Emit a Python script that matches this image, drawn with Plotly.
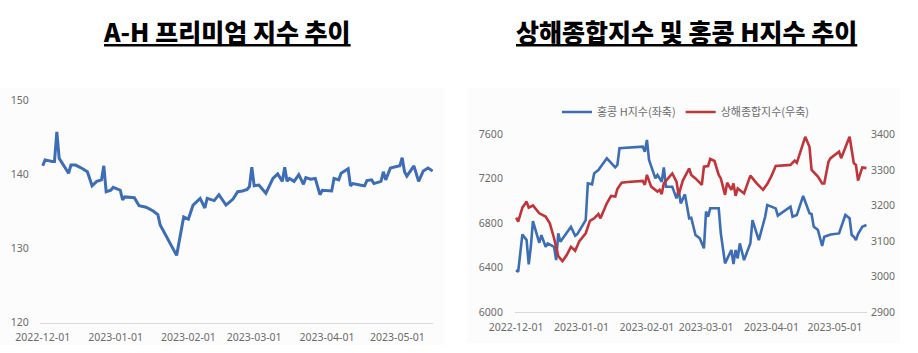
import plotly.graph_objects as go

# ---------------- data ----------------
ah_dates = [
    "2022-12-01", "2022-12-02", "2022-12-05", "2022-12-06", "2022-12-07", "2022-12-08", "2022-12-10",
    "2022-12-12", "2022-12-13", "2022-12-15", "2022-12-18", "2022-12-20", "2022-12-22", "2022-12-24",
    "2022-12-26", "2022-12-27", "2022-12-28", "2022-12-30", "2022-12-31", "2023-01-03", "2023-01-04",
    "2023-01-05", "2023-01-09", "2023-01-11", "2023-01-14", "2023-01-17", "2023-01-19", "2023-01-20",
    "2023-01-27", "2023-01-30", "2023-02-01", "2023-02-03", "2023-02-06", "2023-02-08", "2023-02-09",
    "2023-02-12", "2023-02-14", "2023-02-17", "2023-02-20", "2023-02-22", "2023-02-24", "2023-02-26",
    "2023-02-27", "2023-02-28", "2023-03-01", "2023-03-03", "2023-03-06", "2023-03-09", "2023-03-11",
    "2023-03-13", "2023-03-14", "2023-03-15", "2023-03-16", "2023-03-18", "2023-03-20", "2023-03-22",
    "2023-03-23", "2023-03-25", "2023-03-27", "2023-03-29", "2023-03-30", "2023-04-03", "2023-04-04",
    "2023-04-06", "2023-04-07", "2023-04-10", "2023-04-11", "2023-04-12", "2023-04-15", "2023-04-17",
    "2023-04-18", "2023-04-20", "2023-04-21", "2023-04-24", "2023-04-25", "2023-04-26", "2023-04-28",
    "2023-05-02", "2023-05-03", "2023-05-04", "2023-05-05", "2023-05-08", "2023-05-10", "2023-05-12",
    "2023-05-14", "2023-05-16",
]
ah_premium = [
    141.2, 142.0, 141.8, 141.8, 145.8, 142.2, 141.2,
    140.2, 141.3, 141.3, 140.8, 140.4, 138.5, 139.1,
    139.3, 141.2, 137.7, 137.9, 138.3, 137.9, 136.6,
    137.0, 136.9, 135.8, 135.6, 135.1, 134.6, 133.2,
    129.1, 134.3, 134.0, 135.9, 136.8, 135.5, 136.8,
    136.5, 137.3, 135.9, 136.7, 137.7, 137.8, 138.0,
    138.4, 141.0, 138.5, 138.6, 137.5, 139.5, 140.1,
    139.1, 141.0, 139.1, 139.5, 139.1, 140.0, 138.7,
    139.6, 139.4, 139.5, 137.3, 137.9, 137.8, 139.5,
    139.3, 140.2, 140.8, 138.5, 138.8, 138.6, 138.5,
    139.2, 139.3, 138.8, 139.1, 140.4, 139.3, 140.9,
    141.2, 142.3, 140.4, 139.8, 141.2, 139.1, 140.5,
    140.9, 140.5,
]

hk_dates = [
    "2022-12-01", "2022-12-02", "2022-12-04", "2022-12-06", "2022-12-07", "2022-12-08", "2022-12-09",
    "2022-12-12", "2022-12-13", "2022-12-15", "2022-12-16", "2022-12-19", "2022-12-20", "2022-12-21",
    "2022-12-22", "2022-12-25", "2022-12-27", "2022-12-29", "2022-12-30", "2023-01-03", "2023-01-04",
    "2023-01-06", "2023-01-07", "2023-01-09", "2023-01-11", "2023-01-13", "2023-01-16", "2023-01-17",
    "2023-01-18", "2023-01-19", "2023-01-30", "2023-01-31", "2023-02-01", "2023-02-02", "2023-02-05",
    "2023-02-06", "2023-02-08", "2023-02-09", "2023-02-10", "2023-02-13", "2023-02-15", "2023-02-16",
    "2023-02-17", "2023-02-19", "2023-02-21", "2023-02-22", "2023-02-24", "2023-02-26", "2023-02-28",
    "2023-03-01", "2023-03-02", "2023-03-03", "2023-03-07", "2023-03-08", "2023-03-10", "2023-03-12",
    "2023-03-13", "2023-03-14", "2023-03-15", "2023-03-16", "2023-03-17", "2023-03-19", "2023-03-22",
    "2023-03-23", "2023-03-26", "2023-03-29", "2023-03-30", "2023-04-03", "2023-04-04", "2023-04-10",
    "2023-04-11", "2023-04-13", "2023-04-16", "2023-04-19", "2023-04-20", "2023-04-21", "2023-04-23",
    "2023-04-25", "2023-04-26", "2023-04-29", "2023-05-03", "2023-05-06", "2023-05-08", "2023-05-09",
    "2023-05-10", "2023-05-11", "2023-05-12", "2023-05-14", "2023-05-16",
]
hk_index = [
    6379, 6364, 6700, 6649, 6430, 6589, 6820,
    6625, 6694, 6589, 6619, 6589, 6469, 6709,
    6634, 6709, 6769, 6688, 6703, 6829, 7159,
    7150, 7249, 7279, 7333, 7384, 7324, 7303,
    7324, 7474, 7489, 7444, 7549, 7369, 7204,
    7234, 7174, 7303, 7129, 7129, 7024, 7099,
    6979, 7060, 6845, 6850, 6695, 6665, 6575,
    6905, 6860, 6935, 6935, 6710, 6440, 6515,
    6560, 6434, 6560, 6485, 6620, 6469, 6620,
    6829, 6649, 6859, 6964, 6934, 6869, 6949,
    6859, 6874, 7046, 6890, 6884, 6770, 6740,
    6596, 6680, 6700, 6709, 6875, 6845, 6694,
    6680, 6649, 6703, 6769, 6784,
]

sh_dates = [
    "2022-12-01", "2022-12-02", "2022-12-04", "2022-12-05", "2022-12-06", "2022-12-07", "2022-12-09",
    "2022-12-12", "2022-12-14", "2022-12-15", "2022-12-17", "2022-12-19", "2022-12-21", "2022-12-23",
    "2022-12-25", "2022-12-27", "2022-12-29", "2022-12-31", "2023-01-03", "2023-01-05", "2023-01-07",
    "2023-01-09", "2023-01-10", "2023-01-13", "2023-01-15", "2023-01-17", "2023-01-18", "2023-01-20",
    "2023-01-23", "2023-01-30", "2023-01-31", "2023-02-01", "2023-02-03", "2023-02-06", "2023-02-07",
    "2023-02-08", "2023-02-09", "2023-02-11", "2023-02-13", "2023-02-15", "2023-02-16", "2023-02-18",
    "2023-02-21", "2023-02-22", "2023-02-24", "2023-02-27", "2023-02-28", "2023-03-02", "2023-03-03",
    "2023-03-05", "2023-03-07", "2023-03-08", "2023-03-10", "2023-03-11", "2023-03-13", "2023-03-14",
    "2023-03-15", "2023-03-16", "2023-03-18", "2023-03-19", "2023-03-22", "2023-03-25", "2023-03-28",
    "2023-03-30", "2023-04-01", "2023-04-03", "2023-04-10", "2023-04-12", "2023-04-13", "2023-04-17",
    "2023-04-19", "2023-04-20", "2023-04-23", "2023-04-25", "2023-04-26", "2023-04-28", "2023-04-29",
    "2023-05-03", "2023-05-04", "2023-05-08", "2023-05-10", "2023-05-11", "2023-05-12", "2023-05-14",
    "2023-05-16",
]
sh_index = [
    3166, 3155, 3194, 3203, 3211, 3194, 3200,
    3178, 3173, 3169, 3150, 3108, 3058, 3044,
    3061, 3084, 3073, 3100, 3122, 3157, 3164,
    3176, 3164, 3206, 3227, 3225, 3246, 3264,
    3266, 3269, 3258, 3286, 3253, 3239, 3244,
    3232, 3262, 3276, 3290, 3267, 3230, 3270,
    3304, 3286, 3276, 3258, 3309, 3311, 3331,
    3325, 3286, 3276, 3230, 3264, 3244, 3262,
    3227, 3248, 3239, 3234, 3284, 3262, 3244,
    3260, 3283, 3311, 3314, 3326, 3320, 3393,
    3365, 3300, 3281, 3262, 3262, 3323, 3333,
    3351, 3333, 3393, 3319, 3314, 3270, 3307,
    3305,
]

x_ticks = ["2022-12-01", "2023-01-01", "2023-02-01", "2023-03-01", "2023-04-01", "2023-05-01"]
left_y_ticks = [120, 130, 140, 150]
hk_y_ticks = [6000, 6400, 6800, 7200, 7600]
sh_y_ticks = [2900, 3000, 3100, 3200, 3300, 3400]

title_left = "A-H 프리미엄 지수 추이"
title_right = "상해종합지수 및 홍콩 H지수 추이"
name_hk = "홍콩 H지수(좌축)"
name_sh = "상해종합지수(우축)"

# ---------------- figure ----------------
W, H = 918, 353
BLUE = "#3D6DB5"
RED = "#C0343A"
TICK_FONT = dict(family="Noto Sans, Open Sans, sans-serif", size=10.5, color="#6b6b6b")


def px_x(p):
    return p / W


def px_y(p):
    return 1 - p / H


fig = go.Figure()

fig.add_trace(go.Scatter(x=ah_dates, y=ah_premium, mode="lines", xaxis="x", yaxis="y",
                         line=dict(color=BLUE, width=3), showlegend=False))
fig.add_trace(go.Scatter(x=hk_dates, y=hk_index, mode="lines", xaxis="x2", yaxis="y2",
                         name=name_hk, line=dict(color=BLUE, width=2.6)))
fig.add_trace(go.Scatter(x=sh_dates, y=sh_index, mode="lines", xaxis="x2", yaxis="y3",
                         name=name_sh, line=dict(color=RED, width=2.6)))

axis_common = dict(showgrid=False, zeroline=False, tickfont=TICK_FONT, fixedrange=True,
                   automargin=False)

fig.update_layout(
    width=W, height=H,
    margin=dict(l=0, r=0, t=0, b=0, autoexpand=False),
    paper_bgcolor="white",
    plot_bgcolor="rgba(0,0,0,0)",
    xaxis=dict(domain=[px_x(40), px_x(433)], anchor="y",
               range=["2022-11-29 20:00", "2023-05-16 03:00"],
               tickmode="array", tickvals=x_ticks, ticktext=x_ticks,
               showline=True, linecolor="#d9d9d9", linewidth=1,
               ticks="outside", ticklen=5, tickcolor="rgba(0,0,0,0)", **axis_common),
    yaxis=dict(domain=[px_y(322.7), px_y(100.7)], anchor="x", range=[120, 150],
               tickmode="array", tickvals=left_y_ticks,
               ticks="outside", ticklen=8, tickcolor="rgba(0,0,0,0)", showline=False, **axis_common),
    xaxis2=dict(domain=[px_x(515), px_x(867)], anchor="y2",
                range=["2022-11-30 12:00", "2023-05-16 06:00"],
                tickmode="array", tickvals=x_ticks, ticktext=x_ticks,
                showline=True, linecolor="#d9d9d9", linewidth=1,
                ticks="outside", ticklen=5, tickcolor="rgba(0,0,0,0)", **axis_common),
    yaxis2=dict(domain=[px_y(312.3), px_y(134.3)], anchor="x2", range=[6000, 7600],
                tickmode="array", tickvals=hk_y_ticks,
                ticks="outside", ticklen=9, tickcolor="rgba(0,0,0,0)", showline=False, **axis_common),
    yaxis3=dict(overlaying="y2", side="right", anchor="x2", range=[2900, 3400],
                tickmode="array", tickvals=sh_y_ticks,
                ticks="outside", ticklen=1, tickcolor="rgba(0,0,0,0)", showline=False, **axis_common),
    legend=dict(orientation="h", x=px_x(686), xanchor="center", y=px_y(112), yanchor="middle",
                font=dict(family="Noto Sans CJK KR, Noto Sans, sans-serif", size=11, color="#6b6b6b"),
                bgcolor="rgba(0,0,0,0)", itemwidth=30, tracegroupgap=0),
    showlegend=True,
)

# faint chart panels
fig.add_shape(type="rect", xref="paper", yref="paper", x0=0, x1=px_x(445), y0=px_y(345), y1=px_y(88),
              fillcolor="#fcfcfc", line=dict(width=0), layer="below")
fig.add_shape(type="rect", xref="paper", yref="paper", x0=px_x(467), x1=px_x(900), y0=px_y(343), y1=px_y(88),
              fillcolor="#fcfcfc", line=dict(width=0), layer="below")

title_font = dict(family="Noto Sans CJK KR, Noto Sans, sans-serif", size=25, color="black",
                  weight=900, lineposition="under")
fig.add_annotation(text=title_left, xref="paper", yref="paper", x=px_x(227), y=px_y(31),
                   xanchor="center", yanchor="middle", showarrow=False, font=title_font)
fig.add_annotation(text=title_right, xref="paper", yref="paper", x=px_x(686.5), y=px_y(31),
                   xanchor="center", yanchor="middle", showarrow=False, font=title_font)

fig.write_html("out.html")
